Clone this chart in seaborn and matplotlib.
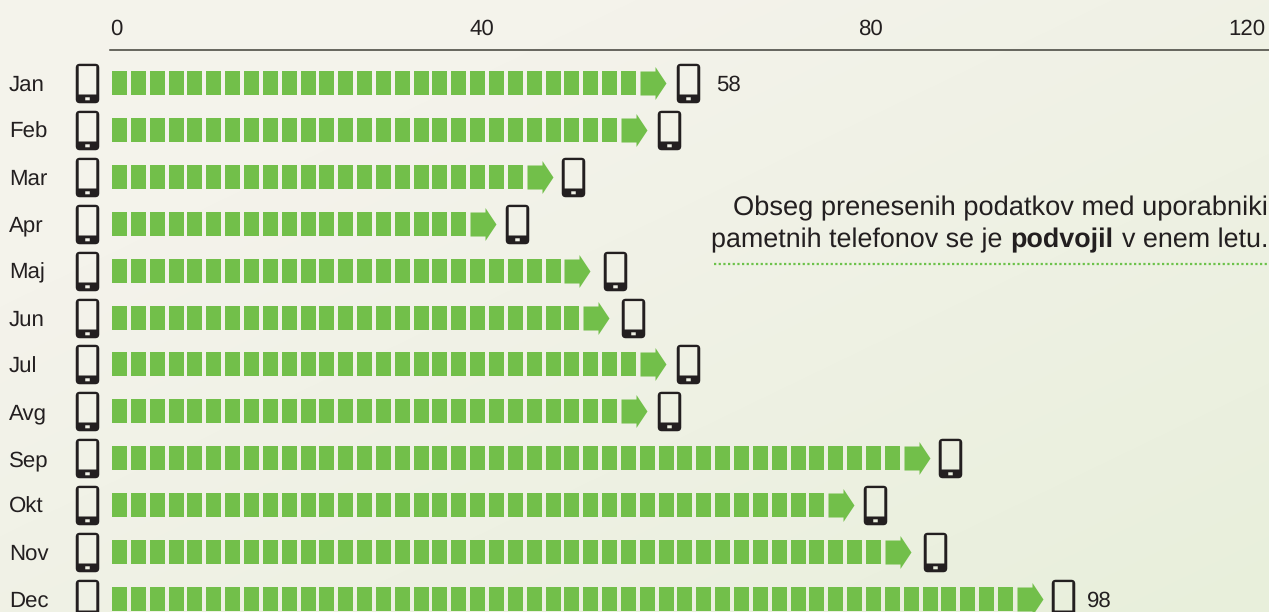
import numpy as np
import pandas as pd
import matplotlib
matplotlib.use("Agg")
import matplotlib.pyplot as plt
import seaborn as sns
from matplotlib.path import Path
from matplotlib.transforms import IdentityTransform

months = ["Jan", "Feb", "Mar", "Apr", "Maj", "Jun", "Jul", "Avg", "Sep", "Okt", "Nov", "Dec"]
values = [58, 56, 46, 40, 50, 52, 58, 56, 86, 78, 84, 98]
phone_gaps = [2.3, 2.3, 2.1, 2.1, 2.5, 2.4, 2.3, 2.3, 2.1, 2.1, 2.45, 2.1]
tick_labels = ["0", "40", "80", "120"]
tick_places = [-0.4, 38.4, 79.6, 119.6]  # labels are not quite on the scale in the original
labelled = {"Jan": 5.3, "Dec": 4.6}  # month: gap between arrow tip and number
note_top = "Obseg prenesenih podatkov med uporabniki"
note_bottom = ["pametnih telefonov se je", "podvojil", "v enem letu."]

GREEN = "#72BF4A"
DARK = "#231F20"
DPI = 100
UNIT = 9.425  # px per value unit
ROW = 46.9  # px per month


def rrect(w, h, cx=0, cy=0, r=0, hole=False):
    x0, x1, y0, y1 = cx - w / 2, cx + w / 2, cy - h / 2, cy + h / 2
    v = [(x0 + r, y0), (x1 - r, y0), (x1, y0), (x1, y0 + r), (x1, y1 - r), (x1, y1),
         (x1 - r, y1), (x0 + r, y1), (x0, y1), (x0, y1 - r), (x0, y0 + r), (x0, y0), (x0 + r, y0)]
    c = [Path.MOVETO, Path.LINETO, Path.CURVE3, Path.CURVE3, Path.LINETO, Path.CURVE3, Path.CURVE3,
         Path.LINETO, Path.CURVE3, Path.CURVE3, Path.LINETO, Path.CURVE3, Path.CURVE3]
    if hole:
        v = v[::-1]
    return v, c


def marker_size(path):
    # matplotlib scales a path marker by its largest coordinate
    return (2 * np.abs(path.vertices).max() * 72 / DPI) ** 2


# markers, drawn in pixels around their anchor
seg_marker = Path([(0, -12), (15, -12), (15, 12), (0, 12), (0, -12)], closed=True)
arrow_marker = Path([(0, -12), (15, -12), (15, -16.5), (26, 0), (15, 16.5), (15, 12), (0, 12), (0, -12)], closed=True)
parts = [rrect(23.5, 39.5, r=4), rrect(17.6, 28.4, cy=3.2, r=1, hole=True), rrect(4.5, 3, cy=-15.3, r=1, hole=True)]
phone_marker = Path(sum([p[0] for p in parts], []), sum([p[1] for p in parts], []))

# one row per block of the arrow, each block is worth 2
rows = []
for m, v in zip(months, values):
    for n in range(v // 2):
        rows.append({"month": m, "pos": 2 * n - 8 / UNIT, "last": n == v // 2 - 1})
blocks = pd.DataFrame(rows)
phones = pd.DataFrame({"month": months, "pos": [v + g for v, g in zip(values, phone_gaps)]})
left_phones = pd.DataFrame({"month": months, "pos": [-3.55] * len(months)})

sns.set_theme(style="white")
plt.rcParams["font.family"] = ["Liberation Sans", "DejaVu Sans"]
plt.rcParams["text.hinting"] = "no_hinting"

fig = plt.figure(figsize=(12.69, 6.12), dpi=DPI)

# pale diagonal background
yy, xx = np.mgrid[0:612, 0:1269]
t = np.clip((xx / 1269 + yy / 612 - 0.5) / 1.5, 0, 1)[..., None]
bg = (1 - t) * np.array([244, 243, 235]) + t * np.array([232, 239, 219])
fig.figimage(bg.astype(np.uint8), origin="upper", zorder=-1)

ax = fig.add_axes([110 / 1269, 0, 1159 / 1269, 562 / 612])
ax.patch.set_alpha(0)

sns.scatterplot(data=blocks[~blocks["last"]], x="pos", y="month", marker=seg_marker, s=marker_size(seg_marker),
                color=GREEN, linewidth=0, legend=False, ax=ax, clip_on=False)
sns.scatterplot(data=blocks[blocks["last"]], x="pos", y="month", marker=arrow_marker, s=marker_size(arrow_marker),
                color=GREEN, linewidth=0, legend=False, ax=ax, clip_on=False)
sns.scatterplot(data=phones, x="pos", y="month", marker=phone_marker, s=marker_size(phone_marker),
                color=DARK, linewidth=0, legend=False, ax=ax, clip_on=True)
sns.scatterplot(data=left_phones, x="pos", y="month", marker=phone_marker, s=marker_size(phone_marker),
                color=DARK, linewidth=0, legend=False, ax=ax, clip_on=False)

ax.set_xlim(-10 / UNIT, 1149 / UNIT)
ax.set_ylim(529 / ROW, -33 / ROW)
ax.set_xlabel("")
ax.set_ylabel("")

ax.set_xticks(tick_places, tick_labels)
ax.xaxis.tick_top()
ax.tick_params(axis="x", length=0, pad=8, labelsize=16, labelcolor=DARK)
ax.set_yticks(range(len(months)), months)
ax.tick_params(axis="y", length=0, pad=101 * 72 / DPI, labelsize=16, labelcolor=DARK)
for lab in ax.get_yticklabels():
    lab.set_ha("left")

sns.despine(ax=ax, top=False, left=True, bottom=True, right=True)
ax.spines["top"].set_color("#3F3F38")
ax.spines["top"].set_linewidth(1.1)

for m, gap in labelled.items():
    i = months.index(m)
    ax.text(values[i] + gap, i, str(values[i]), ha="left", va="center_baseline", fontsize=16, color=DARK)

# note, placed in figure pixels because of the bold word
px = IdentityTransform()
fig.text(1268, 612 - 215, note_top, transform=px, ha="right", va="baseline", fontsize=19.65, color=DARK)
renderer = fig.canvas.get_renderer()
right = 1268
for piece, weight in zip(note_bottom[::-1], ["normal", "bold", "normal"]):
    txt = fig.text(right, 612 - 247, piece, transform=px, ha="right", va="baseline", fontsize=19.4,
                   fontweight=weight, color=DARK)
    right = txt.get_window_extent(renderer).x0 - 8

fig.add_artist(plt.Line2D([714, 1269], [612 - 264, 612 - 264], transform=px, color="#6CC24A",
                          linewidth=1.6, linestyle=(0, (1, 1.1))))

fig.savefig("out.png", dpi=DPI)
